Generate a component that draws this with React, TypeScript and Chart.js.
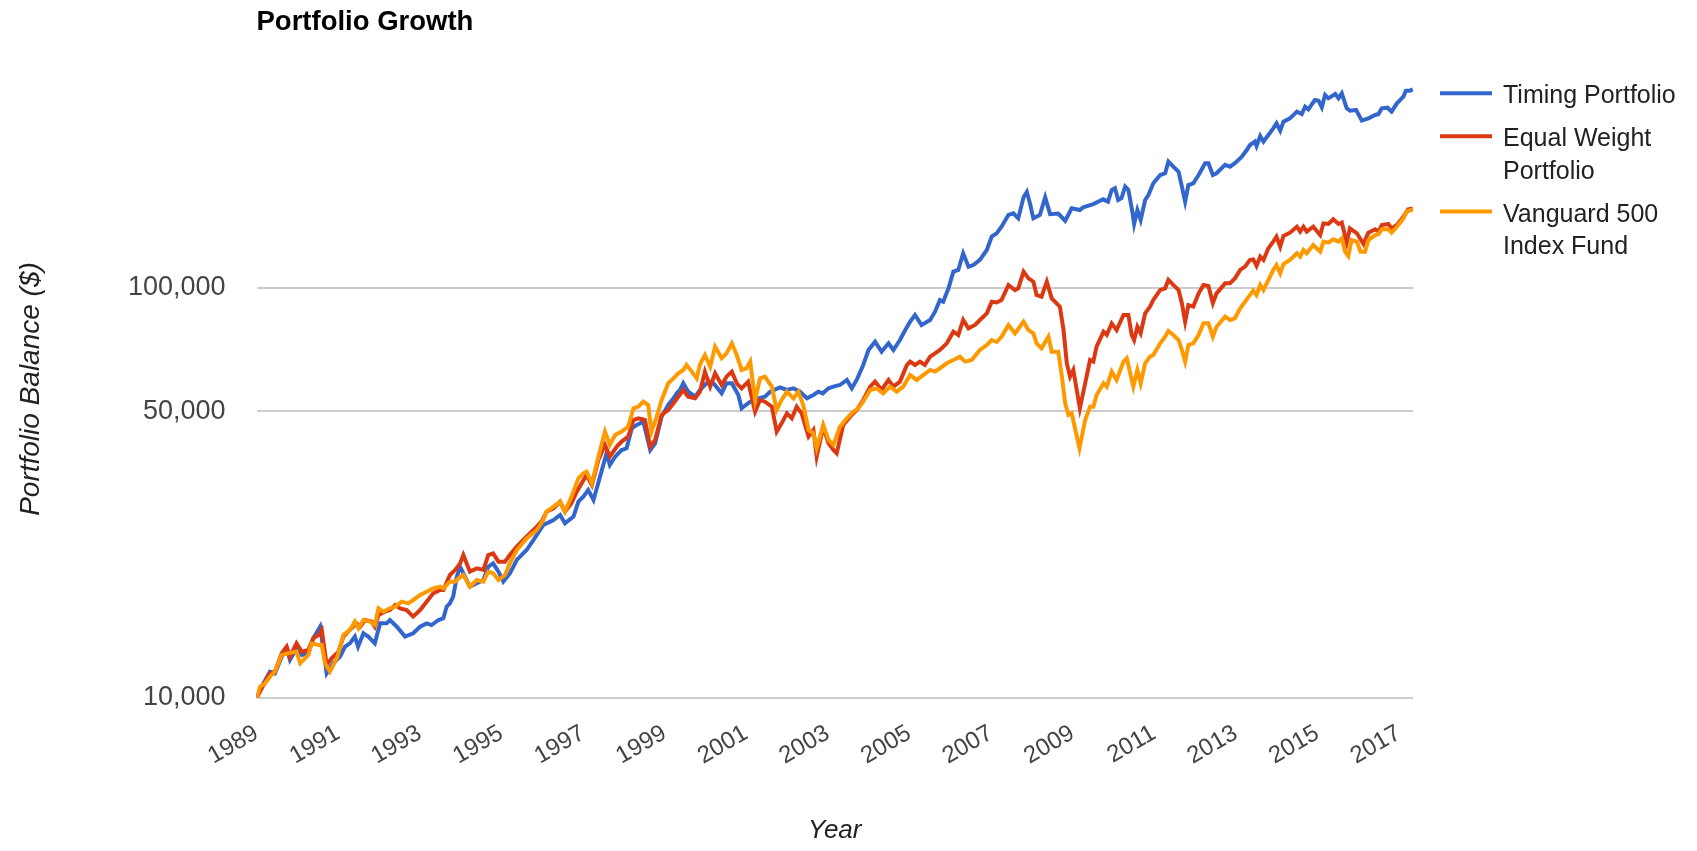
import React, { useEffect, useRef } from "react";
import { Chart, registerables } from "chart.js";

Chart.register(...registerables);

const TITLE = "Portfolio Growth";
const X_AXIS_TITLE = "Year";
const Y_AXIS_TITLE = "Portfolio Balance ($)";
const seriesNames = ["Timing Portfolio", "Equal Weight Portfolio", "Vanguard 500 Index Fund"];
const seriesColors = ["#3366cc", "#dc3912", "#ff9900"];
const yearTicks = [1989, 1991, 1993, 1995, 1997, 1999, 2001, 2003, 2005, 2007, 2009, 2011, 2013, 2015, 2017];
const balanceTicks = [10000, 50000, 100000];

// [year, balance]
const timingPortfolio: [number, number][] = [
  [1989.0, 10000], [1989.17, 10860], [1989.33, 11590], [1989.45, 11480], [1989.62, 12610], [1989.74, 13210],
  [1989.82, 12380], [1989.98, 13210], [1990.11, 12730], [1990.27, 12850], [1990.39, 13980], [1990.56, 14920],
  [1990.72, 11480], [1990.88, 12150], [1991.05, 12610], [1991.17, 13340], [1991.29, 13590], [1991.41, 14110],
  [1991.49, 13340], [1991.62, 14380], [1991.74, 14110], [1991.9, 13590], [1992.03, 15200], [1992.19, 15200],
  [1992.27, 15490], [1992.44, 14920], [1992.64, 14110], [1992.84, 14380], [1993.01, 14920], [1993.17, 15200],
  [1993.29, 15060], [1993.46, 15490], [1993.58, 15640], [1993.66, 16690], [1993.74, 17010], [1993.82, 17660],
  [1993.91, 19750], [1993.99, 20890], [1994.07, 20120], [1994.23, 18680], [1994.4, 19030], [1994.56, 19390],
  [1994.68, 20890], [1994.8, 21290], [1994.93, 20320], [1995.05, 19210], [1995.21, 20120], [1995.38, 21700],
  [1995.62, 22940], [1995.79, 24270], [1996.03, 26400], [1996.28, 27150], [1996.44, 27920], [1996.56, 26650],
  [1996.77, 27660], [1996.89, 30100], [1997.01, 30950], [1997.13, 32130], [1997.26, 30380], [1997.42, 34620],
  [1997.58, 39470], [1997.66, 36970], [1997.79, 38730], [1997.95, 40200], [1998.07, 40590], [1998.2, 45400],
  [1998.32, 46270], [1998.48, 47140], [1998.65, 40200], [1998.77, 41740], [1998.93, 48480], [1999.09, 51760],
  [1999.22, 53730], [1999.3, 55260], [1999.38, 56300], [1999.46, 58460], [1999.58, 55780], [1999.75, 54240],
  [1999.87, 56300], [1999.95, 57370], [2000.07, 59000], [2000.2, 58450], [2000.4, 55260], [2000.52, 58450],
  [2000.65, 58450], [2000.81, 54740], [2000.89, 50800], [2001.1, 52720], [2001.3, 53730], [2001.46, 54240],
  [2001.59, 55770], [2001.83, 57150], [2002.0, 56300], [2002.16, 56830], [2002.32, 55770], [2002.49, 53730],
  [2002.65, 54740], [2002.77, 55770], [2002.88, 55250], [2003.02, 56830], [2003.14, 57360], [2003.3, 57900],
  [2003.47, 59560], [2003.59, 56830], [2003.71, 59560], [2003.87, 64770], [2004.0, 70470], [2004.16, 73840],
  [2004.32, 69810], [2004.49, 73150], [2004.61, 70470], [2004.77, 74530], [2004.9, 78840], [2005.02, 82600],
  [2005.14, 85750], [2005.3, 81080], [2005.51, 83380], [2005.63, 87370], [2005.75, 93290], [2005.83, 92400],
  [2005.96, 99590], [2006.08, 109360], [2006.2, 110400], [2006.32, 121200], [2006.45, 112450], [2006.57, 113500],
  [2006.73, 116800], [2006.9, 123500], [2007.02, 133100], [2007.14, 135600], [2007.26, 140700], [2007.43, 150300],
  [2007.55, 151700], [2007.67, 147500], [2007.8, 166000], [2007.88, 171000], [2007.96, 160000], [2008.04, 147500],
  [2008.2, 150300], [2008.33, 166000], [2008.45, 151000], [2008.65, 151500], [2008.82, 145500], [2008.98, 156000],
  [2009.18, 154500], [2009.26, 156900], [2009.51, 159800], [2009.75, 164100], [2009.87, 162000], [2009.96, 172900],
  [2010.04, 174600], [2010.12, 163500], [2010.2, 165100], [2010.29, 176200], [2010.37, 172900], [2010.47, 152300],
  [2010.51, 142900], [2010.59, 154500], [2010.67, 146100], [2010.78, 163500], [2010.86, 168100], [2010.98, 179500],
  [2011.15, 188100], [2011.27, 189900], [2011.35, 202700], [2011.47, 197100], [2011.6, 191600], [2011.68, 176200],
  [2011.76, 162000], [2011.84, 177800], [2011.96, 179500], [2012.09, 188100], [2012.25, 200900], [2012.33, 200900],
  [2012.44, 188100], [2012.53, 189900], [2012.74, 199100], [2012.86, 197100], [2012.98, 200900], [2013.15, 208500],
  [2013.27, 216400], [2013.35, 222600], [2013.47, 226800], [2013.51, 221300], [2013.6, 234100], [2013.68, 226800],
  [2013.8, 235400], [2013.92, 244400], [2014.0, 251300], [2014.09, 241200], [2014.17, 253700], [2014.33, 258500],
  [2014.5, 268400], [2014.62, 264900], [2014.7, 276000], [2014.78, 271900], [2014.94, 286500], [2015.03, 285400],
  [2015.11, 275000], [2015.19, 294700], [2015.27, 289200], [2015.44, 296300], [2015.52, 289200], [2015.6, 297400],
  [2015.72, 273400], [2015.8, 269900], [2015.95, 271000], [2016.09, 255200], [2016.25, 258500], [2016.42, 263400],
  [2016.5, 264900], [2016.58, 273400], [2016.72, 274400], [2016.82, 268400], [2016.95, 281200], [2017.11, 292000],
  [2017.17, 301900], [2017.27, 301900], [2017.34, 304200],
];

const equalWeightPortfolio: [number, number][] = [
  [1989.0, 10000], [1989.17, 10760], [1989.33, 11480], [1989.45, 11590], [1989.62, 12850], [1989.74, 13340],
  [1989.82, 12610], [1989.98, 13590], [1990.11, 12970], [1990.27, 13090], [1990.39, 13980], [1990.52, 14240],
  [1990.6, 14650], [1990.72, 12030], [1990.84, 12490], [1991.01, 12970], [1991.13, 14110], [1991.29, 14650],
  [1991.45, 15200], [1991.54, 14920], [1991.66, 15490], [1991.82, 15350], [1991.9, 14920], [1991.99, 15930],
  [1992.15, 16230], [1992.27, 16380], [1992.4, 16850], [1992.52, 16540], [1992.68, 16380], [1992.84, 15790],
  [1993.01, 16380], [1993.17, 17170], [1993.33, 17990], [1993.5, 18330], [1993.58, 18330], [1993.74, 19940],
  [1993.87, 20510], [1993.99, 21290], [1994.07, 22300], [1994.23, 20320], [1994.4, 20700], [1994.56, 20510],
  [1994.68, 22300], [1994.8, 22510], [1994.93, 21490], [1995.09, 21490], [1995.21, 22300], [1995.38, 23380],
  [1995.54, 24270], [1995.7, 25190], [1995.87, 26150], [1996.0, 27000], [1996.11, 28450], [1996.28, 28990],
  [1996.44, 30090], [1996.56, 28450], [1996.72, 29810], [1996.85, 31830], [1996.97, 33360], [1997.09, 34950],
  [1997.22, 33040], [1997.38, 38020], [1997.54, 41360], [1997.66, 38730], [1997.83, 40980], [1997.95, 42140],
  [1998.11, 43340], [1998.24, 47580], [1998.36, 48030], [1998.52, 47580], [1998.65, 40980], [1998.77, 42530],
  [1998.93, 48940], [1999.09, 50330], [1999.22, 52240], [1999.34, 54240], [1999.46, 56300], [1999.58, 54240],
  [1999.75, 53730], [1999.87, 55770], [1999.99, 62410], [2000.12, 57360], [2000.24, 61830], [2000.4, 57900],
  [2000.52, 60670], [2000.65, 62410], [2000.77, 58450], [2000.89, 56830], [2001.05, 59000], [2001.22, 49860],
  [2001.34, 53230], [2001.46, 52720], [2001.63, 51270], [2001.75, 44570], [2001.87, 46700], [2002.0, 49400],
  [2002.12, 48030], [2002.24, 51270], [2002.36, 49400], [2002.53, 43340], [2002.65, 44980], [2002.73, 38730],
  [2002.89, 45830], [2003.02, 41740], [2003.14, 40200], [2003.22, 39470], [2003.38, 46260], [2003.55, 48470],
  [2003.71, 50330], [2003.87, 53230], [2004.04, 57360], [2004.16, 59000], [2004.32, 56300], [2004.49, 59560],
  [2004.61, 57360], [2004.77, 59000], [2004.94, 64770], [2005.02, 66010], [2005.14, 64770], [2005.26, 66010],
  [2005.38, 64770], [2005.51, 67870], [2005.63, 69150], [2005.75, 70470], [2005.92, 73150], [2006.08, 78100],
  [2006.2, 76650], [2006.32, 83380], [2006.45, 79580], [2006.61, 81080], [2006.73, 83380], [2006.9, 86560],
  [2007.02, 92400], [2007.14, 92000], [2007.26, 93280], [2007.43, 101460], [2007.59, 98650], [2007.67, 99600],
  [2007.8, 109360], [2007.92, 105300], [2008.04, 103370], [2008.12, 95920], [2008.24, 95000], [2008.37, 103370],
  [2008.49, 94150], [2008.69, 89900], [2008.78, 78800], [2008.86, 65400], [2008.94, 60700], [2009.02, 63000],
  [2009.18, 50800], [2009.31, 58450], [2009.43, 66600], [2009.51, 66000], [2009.59, 71800], [2009.76, 78100],
  [2009.84, 76700], [2009.96, 81800], [2010.08, 78800], [2010.25, 85800], [2010.37, 85800], [2010.45, 76700],
  [2010.51, 74500], [2010.59, 80300], [2010.67, 77400], [2010.78, 86600], [2010.9, 89900], [2010.98, 93300],
  [2011.15, 98700], [2011.27, 99600], [2011.35, 104400], [2011.47, 101500], [2011.6, 98700], [2011.68, 91600],
  [2011.76, 82600], [2011.84, 90700], [2011.96, 89900], [2012.09, 96800], [2012.21, 101500], [2012.33, 100900],
  [2012.44, 91600], [2012.53, 96800], [2012.74, 102400], [2012.86, 102400], [2012.98, 105300], [2013.11, 110400],
  [2013.23, 112500], [2013.35, 116800], [2013.43, 117100], [2013.51, 112900], [2013.6, 118960], [2013.68, 116800],
  [2013.8, 124700], [2013.92, 129400], [2014.0, 133100], [2014.09, 125800], [2014.17, 133600], [2014.33, 136100],
  [2014.5, 140700], [2014.58, 136900], [2014.66, 140700], [2014.74, 136900], [2014.9, 140700], [2015.07, 134300],
  [2015.15, 143400], [2015.27, 142900], [2015.39, 146700], [2015.52, 142900], [2015.6, 144000], [2015.72, 128700],
  [2015.8, 139400], [2015.97, 135600], [2016.13, 127700], [2016.25, 136100], [2016.42, 138700], [2016.5, 136900],
  [2016.58, 142100], [2016.74, 142900], [2016.82, 139400], [2016.95, 142100], [2017.11, 148900], [2017.23, 155100],
  [2017.34, 156000],
];

const vanguard500: [number, number][] = [
  [1989.0, 10000], [1989.09, 10660], [1989.21, 10860], [1989.33, 11270], [1989.45, 11590], [1989.62, 12730],
  [1989.78, 12850], [1989.98, 12970], [1990.07, 12150], [1990.27, 12730], [1990.35, 13590], [1990.52, 13460],
  [1990.6, 13460], [1990.68, 12150], [1990.8, 11590], [1990.97, 12490], [1991.13, 14240], [1991.29, 14650],
  [1991.41, 15350], [1991.5, 14790], [1991.62, 15490], [1991.78, 15350], [1991.9, 15060], [1991.99, 16540],
  [1992.11, 16230], [1992.27, 16540], [1992.4, 16690], [1992.56, 17170], [1992.72, 17010], [1992.84, 17330],
  [1993.01, 17820], [1993.17, 18160], [1993.33, 18500], [1993.5, 18670], [1993.58, 18500], [1993.74, 19210],
  [1993.87, 19210], [1993.95, 19570], [1994.07, 19940], [1994.23, 18670], [1994.4, 19390], [1994.56, 19210],
  [1994.68, 20320], [1994.8, 20130], [1994.93, 19390], [1995.09, 19940], [1995.21, 21290], [1995.38, 22940],
  [1995.62, 24490], [1995.87, 25670], [1996.03, 27150], [1996.11, 28450], [1996.28, 29260], [1996.44, 30090],
  [1996.56, 28450], [1996.72, 30950], [1996.89, 34300], [1997.01, 35280], [1997.09, 35610], [1997.22, 33360],
  [1997.38, 38730], [1997.54, 44570], [1997.66, 41360], [1997.79, 43740], [1997.95, 44570], [1998.11, 45830],
  [1998.24, 50810], [1998.36, 51290], [1998.48, 52740], [1998.6, 51760], [1998.68, 44570], [1998.81, 48480],
  [1998.93, 53250], [1999.09, 58460], [1999.22, 60110], [1999.34, 61830], [1999.46, 63000], [1999.54, 64790],
  [1999.67, 62410], [1999.79, 60110], [1999.87, 65000], [1999.99, 68500], [2000.12, 64190], [2000.24, 71800],
  [2000.4, 67260], [2000.52, 69150], [2000.65, 73150], [2000.77, 68510], [2000.89, 63000], [2001.01, 63600],
  [2001.1, 66000], [2001.22, 53230], [2001.34, 60100], [2001.46, 60670], [2001.63, 57360], [2001.75, 50330],
  [2001.87, 53230], [2002.0, 55770], [2002.16, 53730], [2002.28, 55770], [2002.4, 51760], [2002.53, 44980],
  [2002.65, 44150], [2002.73, 40590], [2002.89, 46260], [2003.02, 42530], [2003.14, 41360], [2003.3, 45830],
  [2003.47, 48030], [2003.63, 49860], [2003.75, 50800], [2003.87, 52720], [2004.04, 56300], [2004.2, 56830],
  [2004.36, 55260], [2004.53, 57360], [2004.69, 55770], [2004.85, 57360], [2005.02, 61230], [2005.18, 59560],
  [2005.34, 61230], [2005.51, 63000], [2005.63, 62410], [2005.75, 63600], [2005.92, 65390], [2006.08, 66620],
  [2006.24, 67870], [2006.37, 66000], [2006.53, 66620], [2006.73, 70470], [2006.9, 72460], [2007.02, 74530],
  [2007.14, 73700], [2007.26, 75930], [2007.43, 81060], [2007.59, 77360], [2007.71, 80280], [2007.8, 82600],
  [2007.92, 78790], [2008.04, 77360], [2008.12, 73150], [2008.24, 71120], [2008.41, 75930], [2008.49, 69800],
  [2008.65, 69800], [2008.74, 60700], [2008.82, 52240], [2008.9, 48940], [2008.98, 49400], [2009.17, 40590],
  [2009.31, 47590], [2009.43, 51270], [2009.51, 51270], [2009.59, 54730], [2009.76, 58460], [2009.84, 57370],
  [2009.96, 62410], [2010.08, 59560], [2010.25, 66010], [2010.33, 67250], [2010.49, 57370], [2010.59, 62990],
  [2010.67, 58460], [2010.78, 65390], [2010.9, 67870], [2010.98, 68510], [2011.15, 73150], [2011.27, 75950],
  [2011.35, 78400], [2011.47, 76650], [2011.6, 74530], [2011.68, 70470], [2011.76, 66010], [2011.84, 72460],
  [2011.96, 73150], [2012.09, 76650], [2012.21, 81830], [2012.33, 81830], [2012.44, 75950], [2012.53, 80320],
  [2012.74, 84960], [2012.86, 83380], [2012.98, 84170], [2013.11, 89000], [2013.23, 92400], [2013.35, 96000],
  [2013.43, 98300], [2013.51, 95940], [2013.6, 101500], [2013.68, 98670], [2013.8, 104350], [2013.92, 110400],
  [2014.0, 113500], [2014.09, 108350], [2014.17, 114150], [2014.33, 116800], [2014.5, 121200], [2014.58, 118960],
  [2014.66, 123500], [2014.74, 121200], [2014.9, 127000], [2015.07, 122350], [2015.15, 129400], [2015.27, 128700],
  [2015.39, 131100], [2015.52, 129400], [2015.6, 131800], [2015.68, 122350], [2015.76, 119400], [2015.84, 130600],
  [2015.97, 129400], [2016.06, 122350], [2016.17, 122350], [2016.25, 130600], [2016.42, 134300], [2016.5, 135100],
  [2016.58, 138700], [2016.74, 138700], [2016.82, 136100], [2016.95, 140700], [2017.11, 147500], [2017.19, 153100],
  [2017.34, 155000],
];

const allSeries = [timingPortfolio, equalWeightPortfolio, vanguard500];

const FONT = '"Liberation Sans", Arial, sans-serif';
const W = 1697;
const H = 851;

function wrapText(ctx: CanvasRenderingContext2D, text: string, maxWidth: number): string[] {
  const words = text.split(" ");
  const lines: string[] = [];
  let cur = "";
  for (const w of words) {
    const test = cur ? cur + " " + w : w;
    if (cur && ctx.measureText(test).width > maxWidth) {
      lines.push(cur);
      cur = w;
    } else {
      cur = test;
    }
  }
  if (cur) lines.push(cur);
  return lines;
}

const overlayPlugin = {
  id: "overlay",
  afterDraw(chart: any) {
    const ctx: CanvasRenderingContext2D = chart.ctx;
    const area = chart.chartArea;
    ctx.save();
    // Title
    ctx.fillStyle = "#000000";
    ctx.textAlign = "left";
    ctx.textBaseline = "alphabetic";
    ctx.font = `bold 27.5px ${FONT}`;
    ctx.fillText(TITLE, area.left, 29.5);
    // Legend
    ctx.font = `25px ${FONT}`;
    const sampleX0 = area.right + 27;
    const sampleX1 = area.right + 79;
    const textX = area.right + 90;
    const lineH = 32.3;
    let baseline = 103.3;
    chart.data.datasets.forEach((ds: any) => {
      const lines = wrapText(ctx, ds.label, 190);
      ctx.strokeStyle = ds.borderColor;
      ctx.lineWidth = 4;
      ctx.beginPath();
      ctx.moveTo(sampleX0, baseline - 10);
      ctx.lineTo(sampleX1, baseline - 10);
      ctx.stroke();
      ctx.fillStyle = "#222222";
      lines.forEach((l, i) => ctx.fillText(l, textX, baseline + i * lineH));
      baseline += lines.length * lineH + 10.7;
    });
    ctx.restore();
  },
};

export default function App() {
  const canvasRef = useRef<HTMLCanvasElement | null>(null);

  useEffect(() => {
    document.body.style.margin = "0";
    const canvas = canvasRef.current;
    if (!canvas) return;
    const plotTop = 80;
    const plotBottomPx = 698;
    const plotLeft = 256.5;
    const plotRight = 1413;

    const chart = new Chart(canvas, {
      type: "line",
      data: {
        datasets: allSeries.map((s, i) => ({
          label: seriesNames[i],
          data: s.map(([x, y]) => ({ x, y })),
          borderColor: seriesColors[i],
          backgroundColor: seriesColors[i],
          borderWidth: 4,
          pointRadius: 0,
          pointHoverRadius: 0,
          tension: 0,
          fill: false,
          order: 3 - i,
        })),
      },
      plugins: [overlayPlugin],
      options: {
        animation: false,
        responsive: false,
        devicePixelRatio: 1,
        events: [],
        layout: { padding: { left: 0, top: plotTop, right: W - plotRight, bottom: 0 } },
        plugins: {
          legend: { display: false },
          title: { display: false },
          tooltip: { enabled: false },
        },
        scales: {
          x: {
            type: "linear",
            min: 1989,
            max: 2017.345,
            afterBuildTicks: (scale: any) => {
              scale.ticks = yearTicks.map((v) => ({ value: v }));
            },
            afterFit: (scale: any) => {
              scale.height = H - plotBottomPx;
            },
            grid: { display: false, drawTicks: false },
            border: { display: false },
            ticks: {
              autoSkip: false,
              minRotation: 30,
              maxRotation: 30,
              padding: 21,
              color: "#444444",
              font: { family: FONT, size: 24 },
              callback: (v: any) => String(v),
            },
            title: {
              display: true,
              text: X_AXIS_TITLE,
              color: "#222222",
              font: { family: FONT, size: 26, style: "italic" },
              padding: { top: 0, bottom: 5 },
            },
          },
          y: {
            type: "logarithmic",
            min: 10000,
            max: Math.pow(10, 4 + (plotBottomPx - plotTop) / 410.4),
            afterBuildTicks: (scale: any) => {
              scale.ticks = balanceTicks.map((v) => ({ value: v }));
            },
            afterFit: (scale: any) => {
              scale.width = plotLeft;
            },
            grid: { color: "#cccccc", lineWidth: 2, drawTicks: false },
            border: { display: false },
            ticks: {
              padding: 31,
              color: "#444444",
              font: { family: FONT, size: 27 },
              callback: (v: any) => Number(v).toLocaleString("en-US"),
            },
            title: {
              display: true,
              text: Y_AXIS_TITLE,
              color: "#222222",
              font: { family: FONT, size: 28, style: "italic" },
              padding: { top: 14, bottom: 0 },
            },
          },
        },
      },
    } as any);

    return () => {
      chart.destroy();
    };
  }, []);

  return (
    <div style={{ width: W, height: H }}>
      <canvas ref={canvasRef} width={W} height={H} style={{ display: "block", width: W, height: H }} />
    </div>
  );
}
